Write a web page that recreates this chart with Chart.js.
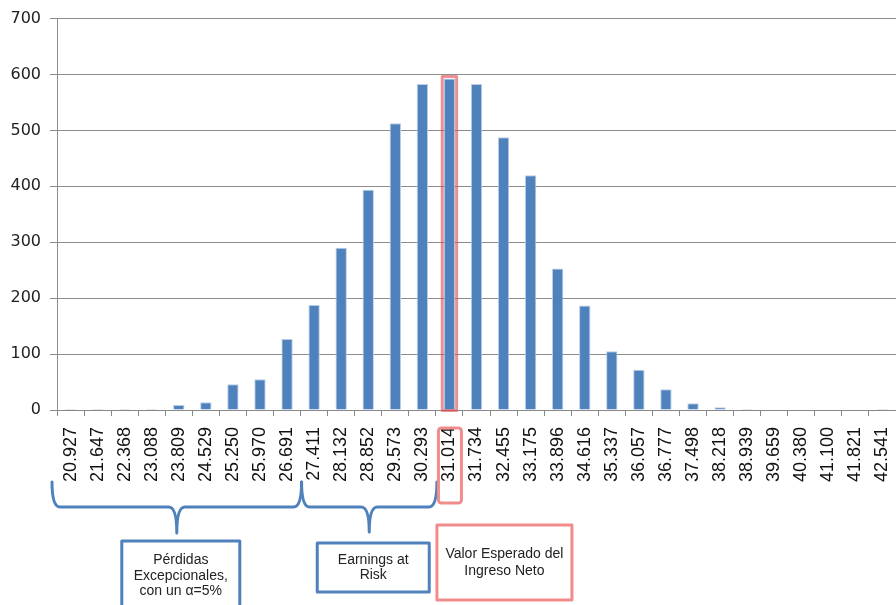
<!DOCTYPE html>
<html>
<head>
  <title>Distribución del Ingreso Neto</title>
  <script src="https://cdn.jsdelivr.net/npm/chart.js"></script>
  <style>
    body { margin: 0; padding: 0; background: #ffffff; }
    #chartBox { width: 896px; height: 605px; }
  </style>
</head>
<body>
  <div id="chartBox">
    <canvas id="histChart" width="896" height="605"></canvas>
  </div>

  <script>
    // Class marks (ingreso neto) and frequencies
    const classMarks = [
      "20.927", "21.647", "22.368", "23.088", "23.809", "24.529", "25.250", "25.970",
      "26.691", "27.411", "28.132", "28.852", "29.573", "30.293", "31.014", "31.734",
      "32.455", "33.175", "33.896", "34.616", "35.337", "36.057", "36.777", "37.498",
      "38.218", "38.939", "39.659", "40.380", "41.100", "41.821", "42.541"
    ];
    const frequencies = [
      2, 2, 2, 2, 9, 14, 46, 55,
      127, 188, 290, 394, 513, 583, 593, 583,
      488, 420, 253, 187, 105, 72, 37, 12,
      5, 2, 0, 0, 0, 0, 2
    ];
    const yTicks = { min: 0, max: 700, step: 100 };

    // Annotation groups (index ranges into classMarks)
    const lossRange = [0, 8];       // Pérdidas Excepcionales
    const earRange = [9, 13];       // Earnings at Risk
    const expectedIndex = 14;       // Valor Esperado

    const blue = "#4F81BD";
    const pink = "#F28C8C";

    // Draws braces, boxes and highlights below / on the chart
    const annotationPlugin = {
      id: "annotations",
      afterDraw(chart) {
        const ctx = chart.ctx;
        const x = chart.scales.x;
        const half = (x.getPixelForValue(1) - x.getPixelForValue(0)) / 2;

        function brace(x0, x1, yTop, yMid, yTip) {
          const xm = (x0 + x1) / 2;
          const r = 8;
          ctx.beginPath();
          ctx.moveTo(x0, yTop);
          ctx.quadraticCurveTo(x0, yMid, x0 + r, yMid);
          ctx.lineTo(xm - r, yMid);
          ctx.quadraticCurveTo(xm, yMid, xm, yTip);
          ctx.quadraticCurveTo(xm, yMid, xm + r, yMid);
          ctx.lineTo(x1 - r, yMid);
          ctx.quadraticCurveTo(x1, yMid, x1, yTop);
          ctx.stroke();
          return xm;
        }

        function box(cx, top, w, h, color, lines, lineH) {
          ctx.strokeStyle = color;
          ctx.lineWidth = 3;
          ctx.beginPath();
          ctx.rect(cx - w / 2, top, w, h);
          ctx.stroke();
          ctx.fillStyle = "#222";
          ctx.font = "14px 'Liberation Sans', Arial, sans-serif";
          ctx.textAlign = "center";
          ctx.textBaseline = "middle";
          const y0 = top + h / 2 - (lines.length - 1) * lineH / 2;
          lines.forEach((t, i) => ctx.fillText(t, cx, y0 + i * lineH));
        }

        ctx.save();
        ctx.lineCap = "round";
        ctx.lineJoin = "round";

        // Braces
        ctx.strokeStyle = blue;
        ctx.lineWidth = 3;
        const b1x0 = x.getPixelForValue(lossRange[0]) - half - 5;
        const b1x1 = x.getPixelForValue(lossRange[1]) + half + 1;
        const b2x1 = x.getPixelForValue(earRange[1]) + half + 1;
        const m1 = brace(b1x0, b1x1, 482, 507, 533);
        const m2 = brace(b1x1, b2x1, 482, 507, 532);

        // Boxes
        box(m1 + 4, 541, 118, 70, blue, ["Pérdidas", "Excepcionales,", "con un α=5%"], 15.5);
        box(m2 + 4, 543, 112, 49, blue, ["Earnings at", "Risk"], 15.5);
        const ex = x.getPixelForValue(expectedIndex);
        box(ex + 55, 525, 135, 75, pink, ["Valor Esperado del", "Ingreso Neto"], 17);

        // Highlight around the expected-value tick label
        ctx.strokeStyle = pink;
        ctx.lineWidth = 3;
        ctx.beginPath();
        ctx.roundRect(ex - 11, 428, 23, 75, 3);
        ctx.stroke();

        // Highlight around the expected-value bar
        const bar = chart.getDatasetMeta(0).data[expectedIndex];
        ctx.strokeStyle = "rgba(225, 70, 80, 0.6)";
        ctx.lineWidth = 3;
        ctx.strokeRect(bar.x - bar.width / 2 - 1.5, bar.y - 2, bar.width + 3, bar.base - bar.y + 3);
        ctx.restore();
      }
    };

    const ctx = document.getElementById("histChart").getContext("2d");
    const histChart = new Chart(ctx, {
      type: "bar",
      data: {
        labels: classMarks,
        datasets: [{
          label: "Frecuencia",
          data: frequencies,
          backgroundColor: blue,
          borderColor: "#b9cde5",
          borderWidth: 1,
          barPercentage: 0.42,
          categoryPercentage: 1.0,
        }],
      },
      options: {
        responsive: false,
        animation: false,
        layout: {
          padding: { top: 7, right: 0, left: 0, bottom: 0 },
        },
        plugins: {
          legend: { display: false },
          tooltip: { enabled: false },
        },
        scales: {
          x: {
            grid: {
              drawOnChartArea: false,
              drawTicks: true,
              tickLength: 6,
              color: "#888888",
              offset: true,
            },
            border: { color: "#888888" },
            ticks: {
              autoSkip: false,
              minRotation: 90,
              maxRotation: 90,
              padding: 11,
              color: "#111111",
              font: { family: "'Liberation Sans', Arial, sans-serif", size: 18 },
            },
            afterFit: (scale) => {
              scale.height = 195;
              scale.paddingLeft = 0;
              scale.paddingRight = 0;
            },
          },
          y: {
            min: yTicks.min,
            max: yTicks.max,
            ticks: {
              stepSize: yTicks.step,
              padding: 9,
              color: "#222222",
              font: { family: "'DejaVu Sans', sans-serif", size: 16 },
            },
            grid: {
              color: "#8c8c8c",
              tickLength: 7,
            },
            border: { color: "#8c8c8c" },
            afterFit: (scale) => { scale.width = 57; },
          },
        },
      },
      plugins: [annotationPlugin],
    });
  </script>
</body>
</html>
